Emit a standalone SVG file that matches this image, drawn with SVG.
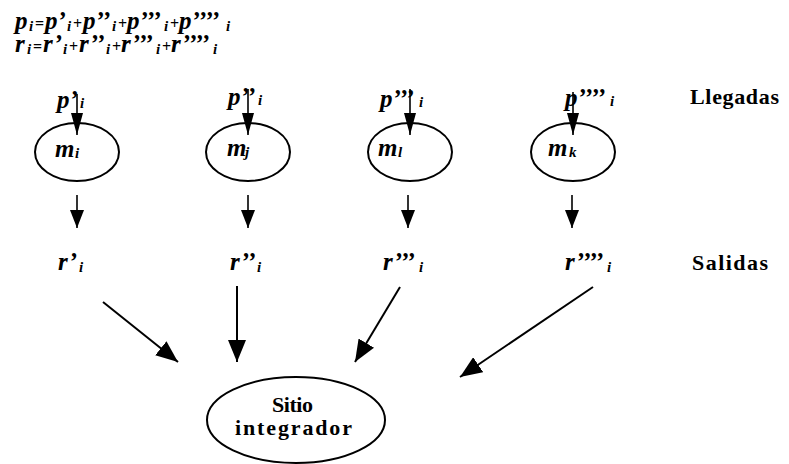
<svg xmlns="http://www.w3.org/2000/svg" width="789" height="464" viewBox="0 0 789 464">
  <defs>
    <marker id="headS" viewBox="0 0 22 12" refX="22" refY="6" markerWidth="22" markerHeight="12" markerUnits="userSpaceOnUse" orient="auto">
      <path d="M0,0 L22,6 L0,12 z" fill="#000"/>
    </marker>
    <marker id="headM" viewBox="0 0 18 14" refX="18" refY="7" markerWidth="18" markerHeight="14" markerUnits="userSpaceOnUse" orient="auto">
      <path d="M0,0 L18,7 L0,14 z" fill="#000"/>
    </marker>
    <marker id="headL" viewBox="0 0 22 18" refX="22" refY="9" markerWidth="22" markerHeight="18" markerUnits="userSpaceOnUse" orient="auto">
      <path d="M0,0 L22,9 L0,18 z" fill="#000"/>
    </marker>
  </defs>
  <rect x="0" y="0" width="789" height="464" fill="#ffffff"/>

  <!-- all lettering: bold Times-metric serif -->
  <g font-family="Liberation Serif" font-weight="bold" fill="#000">

    <!-- balance equations -->
    <g id="equations" font-style="italic" font-size="25">
      <text y="29"><tspan x="15">p</tspan><tspan font-size="15" x="29" dy="2">i</tspan><tspan font-size="16" font-style="normal" x="35" dy="-2">=</tspan><tspan x="45">p’</tspan><tspan font-size="15" x="67" dy="2">i</tspan><tspan font-size="16" font-style="normal" x="73" dy="-2">+</tspan><tspan x="83">p’’</tspan><tspan font-size="15" x="112" dy="2">i</tspan><tspan font-size="16" font-style="normal" x="118" dy="-2">+</tspan><tspan x="127">p’’’</tspan><tspan font-size="15" x="164" dy="2">i</tspan><tspan font-size="16" font-style="normal" x="170" dy="-2">+</tspan><tspan x="179">p’’’’</tspan><tspan font-size="15" x="226" dy="2">i</tspan></text>
      <text y="52"><tspan x="15">r</tspan><tspan font-size="15" x="27" dy="2">i</tspan><tspan font-size="16" font-style="normal" x="33" dy="-2">=</tspan><tspan x="43">r’</tspan><tspan font-size="15" x="63" dy="2">i</tspan><tspan font-size="16" font-style="normal" x="69" dy="-2">+</tspan><tspan x="79">r’’</tspan><tspan font-size="15" x="106" dy="2">i</tspan><tspan font-size="16" font-style="normal" x="112" dy="-2">+</tspan><tspan x="121">r’’’</tspan><tspan font-size="15" x="156" dy="2">i</tspan><tspan font-size="16" font-style="normal" x="162" dy="-2">+</tspan><tspan x="171">r’’’’</tspan><tspan font-size="15" x="213" dy="2">i</tspan></text>
    </g>

    <!-- row captions -->
    <g id="caption-llegadas" font-size="22"><text x="690" y="104" textLength="89" lengthAdjust="spacing">Llegadas</text></g>
    <g id="caption-salidas" font-size="22"><text x="692" y="270" textLength="76" lengthAdjust="spacing">Salidas</text></g>

    <!-- arrival labels -->
    <g font-style="italic" font-size="25">
      <g id="in-1"><text y="108"><tspan x="57">p’</tspan><tspan font-size="15" x="80">i</tspan></text></g>
      <g id="in-2"><text y="105"><tspan x="228">p’’</tspan><tspan font-size="15" x="258">i</tspan></text></g>
      <g id="in-3"><text y="107"><tspan x="380">p’’’</tspan><tspan font-size="15" x="419">i</tspan></text></g>
      <g id="in-4"><text y="106"><tspan x="565">p’’’’</tspan><tspan font-size="15" x="610">i</tspan></text></g>
    </g>

    <!-- processing nodes -->
    <g font-style="italic" font-size="25">
      <g id="node-mi">
        <ellipse cx="77" cy="152" rx="42" ry="29" fill="none" stroke="#000" stroke-width="2"/>
        <text y="157"><tspan x="55">m</tspan><tspan font-size="15" x="75" dy="1">i</tspan></text>
      </g>
      <g id="node-mj">
        <ellipse cx="248" cy="152" rx="42" ry="29" fill="none" stroke="#000" stroke-width="2"/>
        <text y="156"><tspan x="227">m</tspan><tspan font-size="15" x="245" dy="1">j</tspan></text>
      </g>
      <g id="node-ml">
        <ellipse cx="410" cy="152" rx="42" ry="29" fill="none" stroke="#000" stroke-width="2"/>
        <text y="156"><tspan x="378">m</tspan><tspan font-size="15" x="398" dy="1">l</tspan></text>
      </g>
      <g id="node-mk">
        <ellipse cx="573" cy="152" rx="42" ry="29" fill="none" stroke="#000" stroke-width="2"/>
        <text y="156"><tspan x="548">m</tspan><tspan font-size="15" x="569" dy="1">k</tspan></text>
      </g>
    </g>

    <!-- departure labels -->
    <g font-style="italic" font-size="25">
      <g id="out-1"><text y="270"><tspan x="58">r’</tspan><tspan font-size="15" x="79" dy="2">i</tspan></text></g>
      <g id="out-2"><text y="270"><tspan x="230">r’’</tspan><tspan font-size="15" x="257" dy="2">i</tspan></text></g>
      <g id="out-3"><text y="270"><tspan x="383">r’’’</tspan><tspan font-size="15" x="419" dy="2">i</tspan></text></g>
      <g id="out-4"><text y="270"><tspan x="565">r’’’’</tspan><tspan font-size="15" x="607" dy="2">i</tspan></text></g>
    </g>

    <!-- integrating site -->
    <g id="node-sitio" font-size="22">
      <ellipse cx="296" cy="420" rx="89" ry="43" fill="none" stroke="#000" stroke-width="2"/>
      <text x="272" y="412" textLength="41" lengthAdjust="spacing">Sitio</text>
      <text x="235" y="435" textLength="117" lengthAdjust="spacing">integrador</text>
    </g>
  </g>

  <!-- connectors -->
  <g id="connectors" stroke="#000" fill="none">
    <g stroke-width="1.6">
      <line x1="77" y1="94" x2="77" y2="135" marker-end="url(#headS)"/>
      <line x1="248" y1="89" x2="248" y2="135" marker-end="url(#headS)"/>
      <line x1="410" y1="89" x2="410" y2="135" marker-end="url(#headS)"/>
      <line x1="573" y1="92" x2="573" y2="135" marker-end="url(#headS)"/>

      <line x1="77" y1="195" x2="77" y2="228" marker-end="url(#headM)"/>
      <line x1="248" y1="195" x2="248" y2="228" marker-end="url(#headM)"/>
      <line x1="408" y1="195" x2="408" y2="228" marker-end="url(#headM)"/>
      <line x1="572" y1="195" x2="572" y2="228" marker-end="url(#headM)"/>
    </g>
    <g stroke-width="2">
      <line x1="103" y1="302" x2="178" y2="362" marker-end="url(#headL)"/>
      <line x1="237" y1="286" x2="237" y2="362" marker-end="url(#headL)"/>
      <line x1="400" y1="287" x2="355" y2="362" marker-end="url(#headL)"/>
      <line x1="593" y1="287" x2="460" y2="377" marker-end="url(#headL)"/>
    </g>
  </g>
</svg>
